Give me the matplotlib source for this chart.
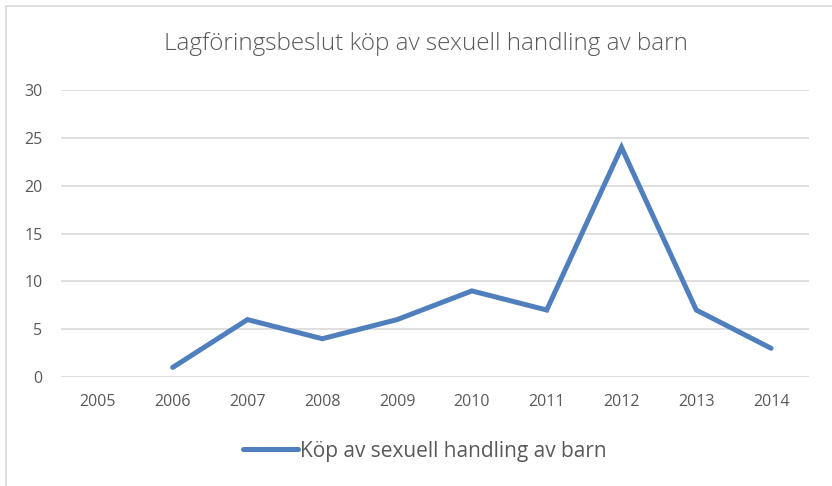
import numpy as np
import matplotlib.pyplot as plt
from matplotlib.patches import Rectangle

years = ["2005", "2006", "2007", "2008", "2009", "2010", "2011", "2012", "2013", "2014"]
beslut = [np.nan, 1, 6, 4, 6, 9, 7, 24, 7, 3]
serie_namn = "Köp av sexuell handling av barn"
titel = "Lagföringsbeslut köp av sexuell handling av barn"

plt.rcParams['font.family'] = ['Open Sans', 'DejaVu Sans']

fig = plt.figure(figsize=(8.32, 4.86), dpi=100)
W, H = 832, 486

# ram runt diagrammet (höger- och nederkant utanför bilden)
fig.patches.append(Rectangle((6 / W, -0.1), 1.2, (H - 6) / H + 0.1,
                             transform=fig.transFigure, fill=False,
                             edgecolor="#d9d9d9", linewidth=1.2))

ax = fig.add_axes([60.5 / W, 1 - 377 / H, (808.5 - 60.5) / W, (377 - 90) / H])
x = np.arange(len(years))
ax.plot(x, beslut, color="#4f7fbd", linewidth=3.6, solid_capstyle="round",
        solid_joinstyle="miter", label=serie_namn)

ax.set_xlim(-0.5, len(years) - 0.5)
ax.set_ylim(0, 30)
ax.set_yticks(np.arange(0, 31, 5))
ax.set_xticks(x)
ax.set_xticklabels(years)
ax.yaxis.grid(True, color="#d9d9d9", linewidth=1.2)
ax.set_axisbelow(True)
for s in ax.spines.values():
    s.set_visible(False)
ax.tick_params(length=0, labelsize=11.5, colors="#595959")
ax.tick_params(axis="x", pad=12.5)
ax.tick_params(axis="y", pad=13)

fig.text(426 / W, 1 - 44 / H, titel, ha="center", va="center",
         fontsize=17.5, color="#595959", fontweight="light")

ax.legend(loc="center", bbox_to_anchor=(425 / W, 1 - 451 / H),
          bbox_transform=fig.transFigure, frameon=False, fontsize=15,
          handlelength=2.64, handletextpad=0.1, labelcolor="#595959")

fig.savefig("out.png", dpi=100)
